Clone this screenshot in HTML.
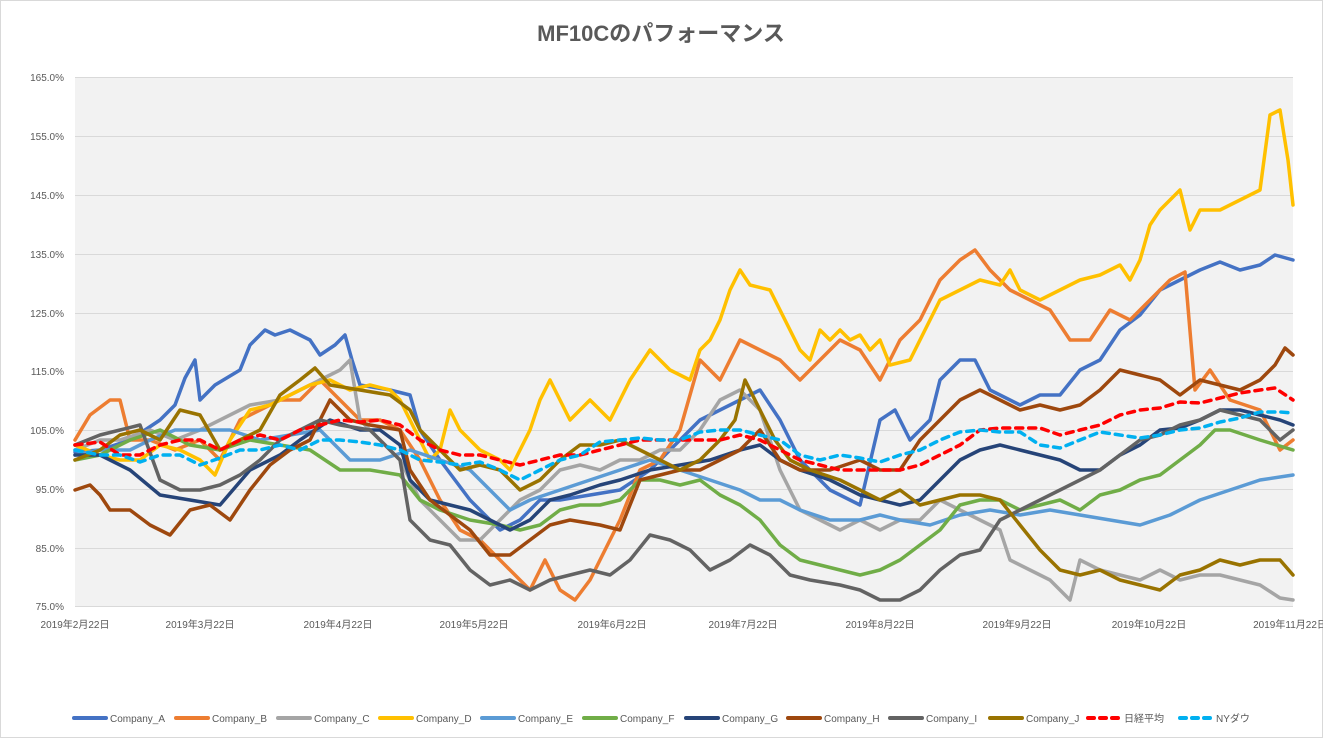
<!DOCTYPE html>
<html><head><meta charset="utf-8"><style>
body{margin:0;background:#fff;}
svg{display:block;font-family:"Liberation Sans","Noto Sans CJK JP",sans-serif;}
</style></head><body>
<svg width="1323" height="738" viewBox="0 0 1323 738" xmlns="http://www.w3.org/2000/svg">
<rect x="0.5" y="0.5" width="1322" height="737" fill="#fff" stroke="#d9d9d9"/>
<text x="661" y="41" text-anchor="middle" font-size="22" font-weight="bold" fill="#595959">MF10Cのパフォーマンス</text>
<rect x="75" y="77" width="1218" height="529" fill="#f2f2f2"/>
<g stroke="#d9d9d9" stroke-width="1">
<line x1="75" x2="1293" y1="77.5" y2="77.5"/><line x1="75" x2="1293" y1="136.5" y2="136.5"/><line x1="75" x2="1293" y1="195.5" y2="195.5"/><line x1="75" x2="1293" y1="254.5" y2="254.5"/><line x1="75" x2="1293" y1="313.5" y2="313.5"/><line x1="75" x2="1293" y1="371.5" y2="371.5"/><line x1="75" x2="1293" y1="430.5" y2="430.5"/><line x1="75" x2="1293" y1="489.5" y2="489.5"/><line x1="75" x2="1293" y1="548.5" y2="548.5"/><line x1="75" x2="1293" y1="606.5" y2="606.5"/>
</g>
<g font-size="10" fill="#595959" text-anchor="end">
<text x="64" y="81">165.0%</text><text x="64" y="140">155.0%</text><text x="64" y="199">145.0%</text><text x="64" y="258">135.0%</text><text x="64" y="317">125.0%</text><text x="64" y="375">115.0%</text><text x="64" y="434">105.0%</text><text x="64" y="493">95.0%</text><text x="64" y="552">85.0%</text><text x="64" y="610">75.0%</text>
</g>
<g font-size="10" fill="#595959" text-anchor="middle">
<text x="75" y="628">2019年2月22日</text><text x="200" y="628">2019年3月22日</text><text x="338" y="628">2019年4月22日</text><text x="474" y="628">2019年5月22日</text><text x="612" y="628">2019年6月22日</text><text x="743" y="628">2019年7月22日</text><text x="880" y="628">2019年8月22日</text><text x="1017" y="628">2019年9月22日</text><text x="1149" y="628">2019年10月22日</text><text x="1290" y="628">2019年11月22日</text>
</g>
<g fill="none" stroke-width="3.5" stroke-linejoin="round" stroke-linecap="round">
<polyline stroke="#4472C4" points="75,452 100,450 130,440 160,420 175,405 185,378 195,360 200,400 215,385 240,370 250,345 265,330 275,335 290,330 310,340 320,355 335,345 345,335 352,360 360,385 390,390 410,395 420,430 440,460 470,500 500,530 520,520 540,500 560,500 590,495 620,490 650,470 680,440 700,420 720,410 740,400 760,390 780,420 800,460 830,490 860,505 880,420 895,410 910,440 930,420 940,380 960,360 975,360 990,390 1020,405 1040,395 1060,395 1080,370 1100,360 1120,330 1140,315 1160,290 1180,280 1200,270 1220,262 1240,270 1260,265 1275,255 1293,260"/>
<polyline stroke="#ED7D31" points="75,440 90,415 110,400 120,400 130,440 150,440 175,450 200,440 220,460 240,420 260,410 280,400 300,400 320,380 340,400 360,420 380,420 400,430 420,460 440,500 460,530 480,540 500,560 520,580 530,590 545,560 560,590 575,600 590,580 600,560 620,520 640,470 660,460 680,430 700,360 720,380 740,340 760,350 780,360 800,380 820,360 840,340 860,350 880,380 900,340 920,320 940,280 960,260 975,250 990,270 1010,290 1030,300 1050,310 1070,340 1090,340 1110,310 1130,320 1150,300 1170,280 1185,272 1195,390 1210,370 1230,400 1260,410 1280,450 1293,440"/>
<polyline stroke="#A5A5A5" points="75,450 100,440 120,440 150,430 175,440 200,430 220,420 250,405 280,400 300,390 320,380 340,370 350,360 360,420 380,440 400,460 420,500 440,520 460,540 480,540 500,520 520,500 540,490 560,470 580,465 600,470 620,460 640,460 660,450 680,450 700,430 720,400 740,390 760,410 780,470 800,510 820,520 840,530 860,520 880,530 900,520 920,520 940,500 960,510 980,520 1000,530 1010,560 1030,570 1050,580 1060,590 1070,600 1080,560 1100,570 1120,575 1140,580 1160,570 1180,580 1200,575 1220,575 1240,580 1260,585 1280,598 1293,600"/>
<polyline stroke="#FFC000" points="75,445 100,455 120,460 140,460 160,445 180,450 200,460 215,475 230,440 250,410 270,405 290,395 310,385 330,380 350,390 370,385 390,390 400,400 410,420 420,440 430,460 440,450 450,410 460,430 480,450 500,460 510,470 530,430 540,400 550,380 560,400 570,420 590,400 610,420 630,380 650,350 670,370 690,380 700,350 710,340 720,320 730,290 740,270 750,285 770,290 780,310 800,350 810,360 820,330 830,340 840,330 850,340 860,335 870,350 880,340 890,365 910,360 925,330 940,300 960,290 980,280 1000,285 1010,270 1020,290 1040,300 1060,290 1080,280 1100,275 1120,265 1130,280 1140,260 1150,225 1160,210 1170,200 1180,190 1190,230 1200,210 1220,210 1240,200 1250,195 1260,190 1270,115 1280,110 1288,160 1293,205"/>
<polyline stroke="#5B9BD5" points="75,455 100,450 130,450 150,440 175,430 200,430 230,430 260,440 290,435 320,430 350,460 380,460 410,450 440,460 470,470 490,490 510,510 530,500 560,490 590,480 620,470 650,460 680,470 710,480 740,490 760,500 780,500 800,510 830,520 860,520 880,515 900,520 930,525 960,515 990,510 1020,515 1050,510 1080,515 1110,520 1140,525 1170,515 1200,500 1230,490 1260,480 1293,475"/>
<polyline stroke="#70AD47" points="75,460 100,455 130,440 160,430 190,445 220,450 250,440 280,445 310,450 340,470 370,470 400,475 420,500 440,510 470,520 500,525 520,530 540,525 560,510 580,505 600,505 620,500 640,480 660,480 680,485 700,480 720,495 740,505 760,520 780,545 800,560 820,565 840,570 860,575 880,570 900,560 920,545 940,530 960,505 980,500 1000,500 1020,510 1040,505 1060,500 1080,510 1100,495 1120,490 1140,480 1160,475 1180,460 1200,445 1215,430 1230,430 1260,440 1293,450"/>
<polyline stroke="#264478" points="75,455 100,455 130,470 160,495 190,500 220,505 250,470 280,455 300,440 330,420 360,430 380,430 400,445 410,480 430,500 450,505 470,510 490,520 510,530 530,520 550,500 570,495 600,485 620,480 650,470 680,465 710,460 740,450 760,445 780,460 800,470 830,480 860,495 880,500 900,505 920,500 940,480 960,460 980,450 1000,445 1020,450 1040,455 1060,460 1080,470 1100,470 1120,455 1140,445 1160,430 1180,428 1200,420 1220,410 1240,410 1260,415 1280,420 1293,425"/>
<polyline stroke="#9E480E" points="75,490 90,485 100,495 110,510 130,510 150,525 170,535 190,510 210,505 230,520 250,490 270,465 290,450 310,440 330,400 350,420 370,425 400,430 410,470 430,500 450,515 470,530 490,555 510,555 530,540 550,525 570,520 600,525 620,530 640,480 660,475 680,470 700,470 720,460 740,450 760,430 780,460 800,470 830,470 860,460 880,470 900,470 920,440 940,420 960,400 980,390 1000,400 1020,410 1040,405 1060,410 1080,405 1100,390 1120,370 1140,375 1160,380 1180,395 1200,380 1220,385 1240,390 1260,380 1275,365 1285,348 1293,355"/>
<polyline stroke="#636363" points="75,445 100,435 120,430 140,425 160,480 180,490 200,490 220,485 240,475 260,460 280,440 300,430 320,420 340,425 370,430 400,460 410,520 430,540 450,545 470,570 490,585 510,580 530,590 550,580 570,575 590,570 610,575 630,560 650,535 670,540 690,550 710,570 730,560 750,545 770,555 790,575 810,580 840,585 860,590 880,600 900,600 920,590 940,570 960,555 980,550 1000,520 1020,510 1040,500 1060,490 1080,480 1100,470 1120,455 1140,440 1160,435 1180,425 1200,420 1220,410 1240,415 1260,420 1280,440 1293,430"/>
<polyline stroke="#997300" points="75,460 100,450 120,435 140,430 160,440 180,410 200,415 220,450 240,440 260,430 280,395 300,380 315,368 330,385 360,390 390,395 410,410 420,430 440,450 460,470 480,465 500,470 520,490 540,480 560,460 580,445 600,445 620,440 640,450 660,460 680,470 700,460 720,440 735,420 745,380 760,410 775,440 790,460 810,470 840,480 860,490 880,500 900,490 920,505 940,500 960,495 980,495 1000,500 1020,525 1040,550 1060,570 1080,575 1100,570 1120,580 1140,585 1160,590 1180,575 1200,570 1220,560 1240,565 1260,560 1280,560 1293,575"/>
<polyline stroke="#FF0000" stroke-dasharray="7,6" points="75,445 100,442 120,455 140,455 160,445 180,440 200,440 220,450 240,440 260,435 280,440 300,430 320,425 340,420 360,422 380,420 400,425 420,440 440,450 460,455 480,455 500,460 520,465 540,460 560,455 580,455 600,450 620,445 640,440 660,440 680,440 700,440 720,440 740,435 760,440 780,450 800,460 820,465 840,470 860,470 880,470 900,470 920,465 940,455 960,445 980,430 1000,428 1020,428 1040,428 1060,435 1080,430 1100,425 1120,415 1140,410 1160,408 1180,402 1200,403 1220,398 1240,393 1260,390 1275,388 1293,400"/>
<polyline stroke="#00B0F0" stroke-dasharray="7,6" points="75,450 100,455 120,455 140,462 160,455 180,455 200,465 220,458 240,450 260,450 280,445 300,450 320,440 340,440 360,442 380,445 400,450 420,460 440,462 460,465 480,462 500,470 520,480 530,475 540,470 560,460 580,455 600,442 620,440 640,438 660,440 680,440 700,432 720,430 740,430 760,435 780,440 800,455 820,460 840,455 860,458 880,462 900,455 920,450 940,440 960,432 980,430 1000,432 1020,432 1040,445 1060,448 1080,440 1100,432 1120,435 1140,438 1160,435 1180,430 1200,428 1220,422 1240,418 1260,412 1280,412 1293,413"/>
</g>
<g font-size="10" fill="#595959" stroke-width="4" stroke-linecap="round">
<line x1="74" x2="106" y1="718" y2="718" stroke="#4472C4"/><text x="110" y="722">Company_A</text>
<line x1="176" x2="208" y1="718" y2="718" stroke="#ED7D31"/><text x="212" y="722">Company_B</text>
<line x1="278" x2="310" y1="718" y2="718" stroke="#A5A5A5"/><text x="314" y="722">Company_C</text>
<line x1="380" x2="412" y1="718" y2="718" stroke="#FFC000"/><text x="416" y="722">Company_D</text>
<line x1="482" x2="514" y1="718" y2="718" stroke="#5B9BD5"/><text x="518" y="722">Company_E</text>
<line x1="584" x2="616" y1="718" y2="718" stroke="#70AD47"/><text x="620" y="722">Company_F</text>
<line x1="686" x2="718" y1="718" y2="718" stroke="#264478"/><text x="722" y="722">Company_G</text>
<line x1="788" x2="820" y1="718" y2="718" stroke="#9E480E"/><text x="824" y="722">Company_H</text>
<line x1="890" x2="922" y1="718" y2="718" stroke="#636363"/><text x="926" y="722">Company_I</text>
<line x1="990" x2="1022" y1="718" y2="718" stroke="#997300"/><text x="1026" y="722">Company_J</text>
<line x1="1088" x2="1120" y1="718" y2="718" stroke="#FF0000" stroke-dasharray="6,6"/><text x="1124" y="722">日経平均</text>
<line x1="1180" x2="1212" y1="718" y2="718" stroke="#00B0F0" stroke-dasharray="6,6"/><text x="1216" y="722">NYダウ</text>
</g>
</svg>
</body></html>
